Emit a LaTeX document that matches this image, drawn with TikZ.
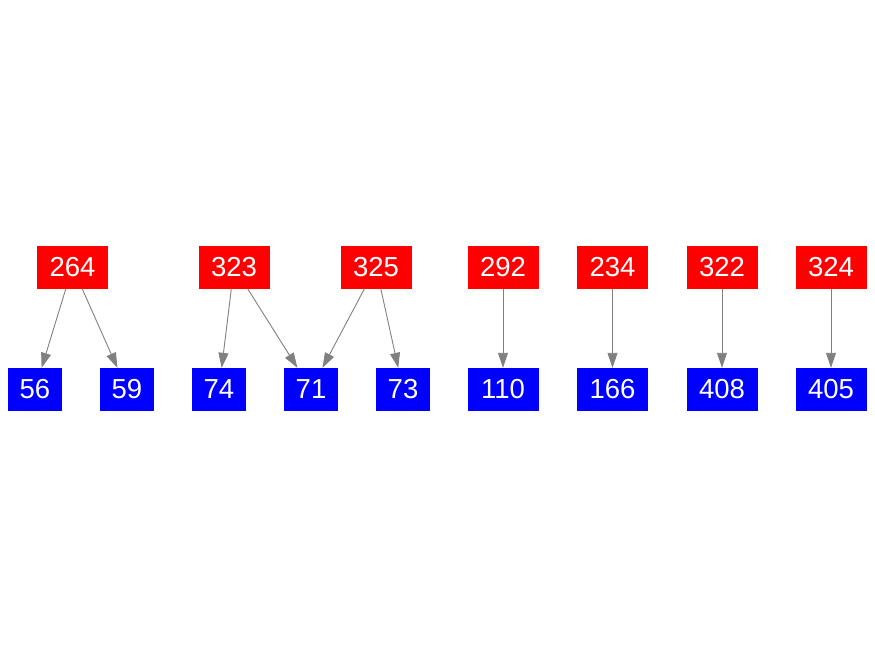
\documentclass[tikz,border=0pt]{standalone}
\usepackage{fontspec}
\setmainfont{Liberation Sans}
\usetikzlibrary{arrows.meta}

\begin{document}
\begin{tikzpicture}[x=1pt,y=-1pt,>={Triangle[length=15pt,width=10pt]},
    src/.style={fill=red,text=white,minimum width=71pt,minimum height=43pt,inner sep=0pt},
    dst/.style={fill=blue,text=white,minimum width=54pt,minimum height=43pt,inner sep=0pt},
    widedst/.style={dst,minimum width=71pt},
    link/.style={->,draw=gray,line width=0.9pt}]
    \useasboundingbox (0,0) rectangle (875,656);
    \begin{scope}[every node/.style={font=\fontsize{27.5}{32}\selectfont}]
      % upper row
      \node [src] (n264) at (72.5,267) {264};
      \node [src] (n323) at (234,267) {323};
      \node [src] (n325) at (376,267) {325};
      \node [src] (n292) at (503,267) {292};
      \node [src] (n234) at (612.5,267) {234};
      \node [src] (n322) at (722,267) {322};
      \node [src] (n324) at (831,267) {324};
      % lower row
      \node [dst] (n56) at (35,389.5) {56};
      \node [dst] (n59) at (127,389.5) {59};
      \node [dst] (n74) at (219,389.5) {74};
      \node [dst] (n71) at (311,389.5) {71};
      \node [dst] (n73) at (403,389.5) {73};
      \node [widedst] (n110) at (503,389.5) {110};
      \node [widedst] (n166) at (612.5,389.5) {166};
      \node [widedst] (n408) at (722,389.5) {408};
      \node [widedst] (n405) at (831,389.5) {405};
    \end{scope}

    \draw [link] (n264) -- (n56);
    \draw [link] (n264) -- (n59);
    \draw [link] (n323) -- (n74);
    \draw [link] (n323) -- (n71);
    \draw [link] (n325) -- (n71);
    \draw [link] (n325) -- (n73);
    \draw [link] (n292) -- (n110);
    \draw [link] (n234) -- (n166);
    \draw [link] (n322) -- (n408);
    \draw [link] (n324) -- (n405);
  \end{tikzpicture}
\end{document}
